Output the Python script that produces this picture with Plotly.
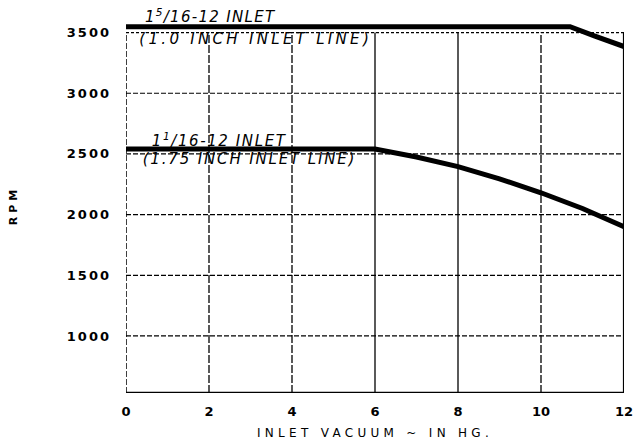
import plotly.graph_objects as go

# Data
vac_large = [0, 10.7, 11.3, 12]
rpm_large = [3548, 3548, 3470, 3385]
vac_small = [0, 6, 7, 8, 9, 10, 11, 12]
rpm_small = [2540, 2540, 2475, 2395, 2295, 2180, 2050, 1900]
x_ticks = [0, 2, 4, 6, 8, 10, 12]
y_ticks = [1000, 1500, 2000, 2500, 3000, 3500]
y_min, y_top = 530, 3500

fig = go.Figure()
fig.add_trace(go.Scatter(x=vac_large, y=rpm_large, mode="lines",
                         line=dict(color="black", width=5), showlegend=False))
fig.add_trace(go.Scatter(x=vac_small, y=rpm_small, mode="lines",
                         line=dict(color="black", width=5), showlegend=False))

shapes = []
for yv in y_ticks[:-1]:
    shapes.append(dict(type="line", x0=0, x1=12, y0=yv, y1=yv,
                       line=dict(color="black", width=1.2, dash="5px,2px"), layer="below"))
for xv in x_ticks[1:-1]:
    shapes.append(dict(type="line", x0=xv, x1=xv, y0=y_min, y1=y_top,
                       line=dict(color="black", width=1.3,
                                 dash="solid" if xv in (6, 8) else "8px,2px"), layer="below"))
shapes.append(dict(type="line", x0=0, x1=12, y0=y_top, y1=y_top,
                   line=dict(color="black", width=1.3, dash="3px,2px")))
shapes.append(dict(type="line", x0=0, x1=0, y0=y_min, y1=y_top,
                   line=dict(color="black", width=1.5, dash="6px,2px")))
shapes.append(dict(type="line", x0=12, x1=12, y0=y_min, y1=y_top,
                   line=dict(color="black", width=2.2)))
shapes.append(dict(type="line", x0=0, x1=12, y0=y_min, y1=y_min,
                   line=dict(color="black", width=2.5)))

lab_font = dict(family="DejaVu Sans", size=15, color="black", style="italic")
annotations = [
    dict(x=2.05, y=3535, text="1<sup>5</sup>/16-12 INLET", showarrow=False,
         xanchor="center", yanchor="bottom", font=lab_font),
    dict(x=3.13, y=3541, text="(1.0 INCH INLET LINE)", showarrow=False,
         xanchor="center", yanchor="top", font=lab_font),
    dict(x=2.27, y=2520, text="1<sup>1</sup>/16-12 INLET", showarrow=False,
         xanchor="center", yanchor="bottom", font=lab_font),
    dict(x=2.97, y=2545, text="(1.75 INCH INLET LINE)", showarrow=False,
         xanchor="center", yanchor="top", font=lab_font),
]

fig.update_layout(
    width=633, height=444,
    margin=dict(l=126, r=9, t=18, b=51),
    paper_bgcolor="white", plot_bgcolor="white",
    shapes=shapes, annotations=annotations,
    font=dict(family="DejaVu Sans", color="black"),
    xaxis=dict(range=[0, 12], tickvals=x_ticks, ticktext=[str(v) for v in x_ticks],
               showgrid=False, zeroline=False, showline=False, ticks="",
               automargin=False, ticklabeloverflow="allow", ticklabelstandoff=9,
               tickfont=dict(size=13, family="DejaVu Sans", weight="bold"),
               title=dict(text="INLET VACUUM ~ IN HG.", standoff=10,
                          font=dict(size=12, family="DejaVu Sans"))),
    yaxis=dict(range=[y_min, 3620], tickvals=y_ticks, ticktext=[str(v) for v in y_ticks],
               showgrid=False, zeroline=False, showline=False, ticks="",
               automargin=False, ticklabelstandoff=14,
               tickfont=dict(size=13, family="DejaVu Sans", weight="bold"),
               title=dict(text="RPM", standoff=54,
                          font=dict(size=11, family="DejaVu Sans", weight="bold"))),
)

post = """
document.body.style.margin = '0';
document.body.style.overflow = 'hidden';
var gd = document.getElementById('{plot_id}');
function ls(sel, v){ gd.querySelectorAll(sel).forEach(function(e){ e.style.letterSpacing = v; }); }
ls('.ytick text', '2px');
ls('.xtitle', '4.3px');
ls('.ytitle', '4px');
ls('.annotation[data-index="0"] text', '1.3px');
ls('.annotation[data-index="1"] text', '3.3px');
ls('.annotation[data-index="2"] text', '1.6px');
ls('.annotation[data-index="3"] text', '1.85px');
"""

fig.write_html("out.html", post_script=post, config={"displayModeBar": False})
